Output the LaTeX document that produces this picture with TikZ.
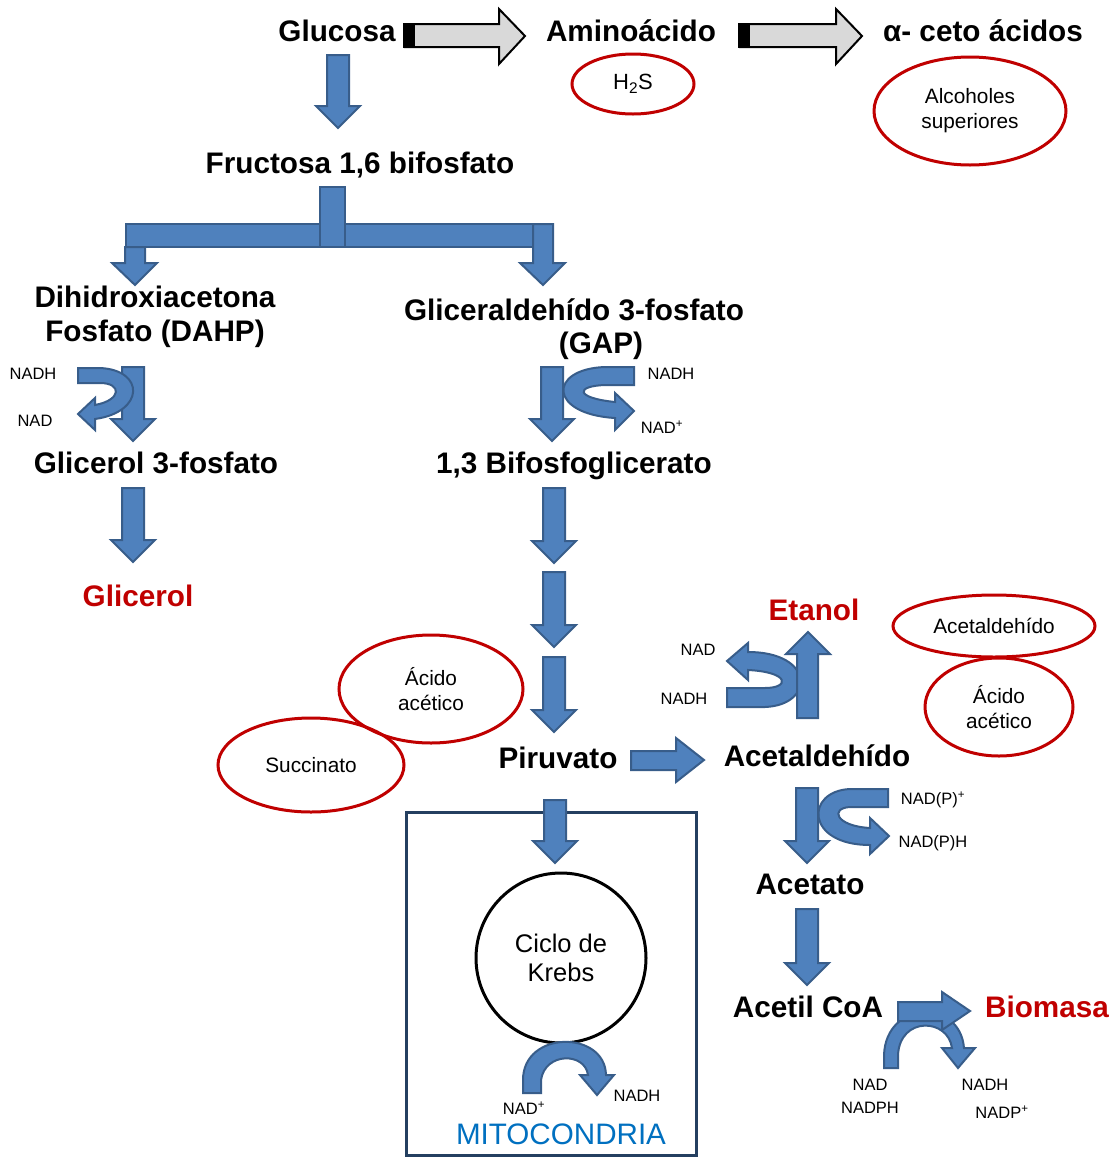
\documentclass[tikz,border=0pt]{standalone}
\usepackage{fontspec}
\setmainfont{Liberation Sans}
\usetikzlibrary{shapes.geometric}
\definecolor{myred}{HTML}{C00000}
\definecolor{myblue}{HTML}{4F81BD}
\definecolor{myblueD}{HTML}{385D8A}
\definecolor{mygray}{HTML}{D9D9D9}
\definecolor{mitoblue}{HTML}{0070C0}
\definecolor{boxblue}{HTML}{243F60}
\newcommand{\bdn}[3]{%
\filldraw[barrow] ({#1-11},{#2}) -- ({#1+11},{#2}) -- ({#1+11},{#3-22}) -- ({#1+22},{#3-22}) -- ({#1},{#3}) -- ({#1-22},{#3-22}) -- ({#1-11},{#3-22}) -- cycle;}
\tikzset{
 bigtxt/.style={font=\fontsize{29.7}{34}\selectfont\bfseries, inner sep=0pt, align=center},
 redtxt/.style={bigtxt, text=myred},
 smtxt/.style={font=\fontsize{16.5}{19}\selectfont, inner sep=0pt},
 ovalnode/.style={ellipse, draw=myred, line width=3pt, inner sep=0pt, align=center, font=\fontsize{20.8}{25}\selectfont},
 barrow/.style={fill=myblue, draw=myblueD, line width=2pt, line join=miter},
 garrow/.style={fill=mygray, draw=black, line width=2pt},
}
\begin{document}
\begin{tikzpicture}[x=1pt,y=-1pt]
\useasboundingbox (0,0) rectangle (1113,1157);
\fill[white] (0,0) rectangle (1113,1157);

% ---------- top row ----------
\node[bigtxt] (glucosa) at (337,31) {Glucosa};
\node[bigtxt] (amino) at (631,31) {Aminoácido};
\node[bigtxt] (ceto) at (983,31) {α- ceto ácidos};
\node[ovalnode, minimum width=122, minimum height=60, font=\fontsize{22}{25}\selectfont] (h2s) at (633,84) {H\textsubscript{2}S};
\node[ovalnode, minimum width=192, minimum height=108] (alcoh) at (970,111) {Alcoholes\\superiores};

% gray arrows
\filldraw[garrow] (405,24) -- (499,24) -- (499,9) -- (525,36) -- (499,64) -- (499,47) -- (405,47) -- cycle;
\fill[black] (403,23) rectangle (415,48);
\filldraw[garrow] (740,24) -- (836,24) -- (836,9) -- (862,36) -- (836,64) -- (836,47) -- (740,47) -- cycle;
\fill[black] (738,23) rectangle (750,48);

% glucosa -> fructosa
\bdn{338}{55}{128}
\node[bigtxt] (fructosa) at (360,165) {Fructosa 1,6 bifosfato};

% branch
\filldraw[barrow] (125,247) -- (145,247) -- (145,263) -- (157,263) -- (135,285) -- (112,263) -- (125,263) -- cycle;
\filldraw[barrow] (126,224) rectangle (553,247);
\filldraw[barrow] (320,187) rectangle (345,247);
\filldraw[barrow] (533,224) -- (553,224) -- (553,263) -- (565,263) -- (543,285) -- (520,263) -- (533,263) -- cycle;

\node[bigtxt] (dahp) at (155,317) {Dihidroxiacetona\\Fosfato (DAHP)};
\node[bigtxt] (gap1) at (574,310) {Gliceraldehído 3-fosfato};
\node[bigtxt] (gap2) at (601,346) {(GAP)};

% left reaction DAHP -> G3P
\bdn{133}{367}{441}
\filldraw[barrow] (78,368) -- (100,368) .. controls (145,370) and (145,412) .. (95,419) -- (95,430) -- (78,414) -- (95,398) -- (95,405) .. controls (122,400) and (122,383) .. (100,383) -- (78,383) -- cycle;
\node[smtxt] (nadh1) at (33,374) {NADH};
\node[smtxt] (nad1) at (35,421) {NAD};
\node[bigtxt] (g3p) at (156,463) {Glicerol 3-fosfato};
\bdn{133}{488}{562}
\node[redtxt] (glicerol) at (138,596) {Glicerol};

% right reaction GAP -> BPG
\bdn{552}{367}{441}
\filldraw[barrow] (634,367) -- (605,367) .. controls (548,369) and (548,414) .. (615,418) -- (615,430) -- (634,411) -- (615,393) -- (615,402) .. controls (575,398) and (575,386) .. (605,385) -- (634,385) -- cycle;
\node[smtxt] (nadh2) at (671,374) {NADH};
\node[smtxt] (nad2) at (662,427) {NAD\textsuperscript{+}};
\node[bigtxt] (bpg) at (574,466) {1,3 Bifosfoglicerato};
\bdn{554}{488}{563}
\bdn{554}{572}{647}
\bdn{554}{657}{732}

% piruvato
\node[bigtxt] (piruvato) at (558,758) {Piruvato};
\node[ovalnode, minimum width=186, minimum height=94] (succ) at (311,765) {Succinato};
\node[ovalnode, minimum width=184, minimum height=108] (acid1) at (431,689) {Ácido\\acético};
\filldraw[barrow] (631,751) -- (676,751) -- (676,738) -- (704,760) -- (676,782) -- (676,770) -- (631,770) -- cycle;

% mitochondria
\draw[boxblue, line width=3pt] (406,812) rectangle (696,1155);
\bdn{555}{800}{863}
\node[circle, draw=black, line width=3pt, minimum size=170, inner sep=0pt, align=center, font=\fontsize{25.5}{29}\selectfont] (krebs) at (561,958) {Ciclo de\\Krebs};
\filldraw[barrow] (523,1093) -- (523,1080) .. controls (523,1030) and (605,1030) .. (606,1075) -- (614,1075) -- (597,1095) -- (580,1075) -- (588,1075) .. controls (585,1052) and (545,1052) .. (541,1080) -- (541,1093) -- cycle;
\node[smtxt] (nad3) at (524,1108) {NAD\textsuperscript{+}};
\node[smtxt] (nadh3) at (637,1096) {NADH};
\node[font=\fontsize{29.6}{34}\selectfont, text=mitoblue, inner sep=0pt] (mito) at (561,1134) {MITOCONDRIA};

% acetaldehido / etanol
\node[bigtxt] (acetald) at (817,756) {Acetaldehído};
\filldraw[barrow] (727,707) -- (765,707) .. controls (815,705) and (815,652) .. (748,652) -- (748,643) -- (727,661) -- (748,680) -- (748,670) .. controls (790,672) and (790,688) .. (765,688) -- (727,688) -- cycle;
\filldraw[barrow] (797,718) -- (797,654) -- (786,654) -- (808,632) -- (830,654) -- (818,654) -- (818,718) -- cycle;
\node[redtxt] (etanol) at (814,610) {Etanol};
\node[smtxt] (nad4) at (698,650) {NAD};
\node[smtxt] (nadh4) at (684,699) {NADH};
\node[ovalnode, minimum width=202, minimum height=62] (acetE) at (994,626) {Acetaldehído};
\node[ovalnode, minimum width=148, minimum height=98] (acid2) at (999,707) {Ácido\\acético};

% acetaldehido -> acetato
\filldraw[barrow] (888,789) -- (850,789) .. controls (805,791) and (805,845) .. (870,845) -- (870,854) -- (889,836) -- (870,818) -- (870,828) .. controls (835,826) and (830,808) .. (850,807) -- (888,807) -- cycle;
\bdn{807}{788}{863}
\node[smtxt] (nadp1) at (933,800) {NAD(P)\textsuperscript{+}};
\node[smtxt] (nadp2) at (933,843) {NAD(P)H};
\node[bigtxt] (acetato) at (810,884) {Acetato};
\bdn{807}{909}{985}
\node[bigtxt] (acetil) at (808,1007) {Acetil CoA};

% biomasa
\filldraw[barrow] (884,1068) -- (884,1055) .. controls (886,1000) and (960,998) .. (964,1048) -- (975,1048) -- (958,1068) -- (942,1048) -- (952,1048) .. controls (948,1018) and (900,1016) .. (898,1055) -- (898,1068) -- cycle;
\filldraw[barrow] (898,1002) -- (942,1002) -- (942,992) -- (970,1011) -- (942,1030) -- (942,1021) -- (898,1021) -- cycle;
\node[redtxt] (biomasa) at (1047,1007) {Biomasa};
\node[smtxt] (nad5) at (870,1085) {NAD};
\node[smtxt] (nadph) at (870,1108) {NADPH};
\node[smtxt] (nadh5) at (985,1085) {NADH};
\node[smtxt] (nadp3) at (1002,1112) {NADP\textsuperscript{+}};
\end{tikzpicture}
\end{document}
